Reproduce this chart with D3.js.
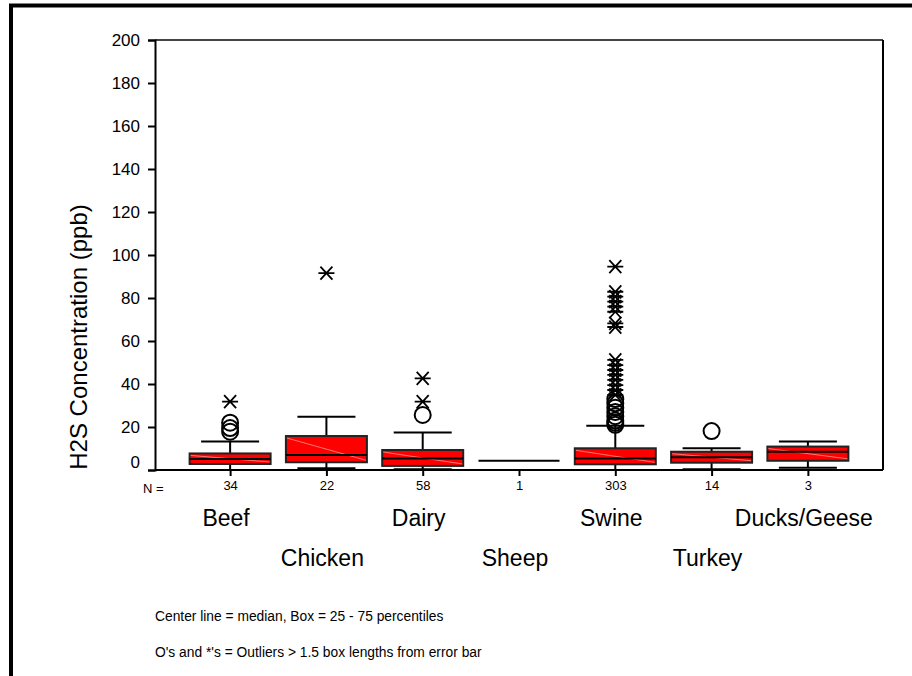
<!DOCTYPE html>
<html><head><meta charset="utf-8">
<script src="https://cdn.jsdelivr.net/npm/d3@7"></script>
<style>body{margin:0;background:#fff}svg{display:block;font-family:Arial,"Liberation Sans",sans-serif}</style>
</head><body>
<script>
const categories = ["Beef","Chicken","Dairy","Sheep","Swine","Turkey","Ducks/Geese"];
const nCounts = [34,22,58,1,303,14,3];
const labelRow = [0,1,0,1,0,1,0];
const q1 = [2.8, 3.6, 1.9, 4.3, 2.65, 3.4, 4.3];
const median = [5.1, 7.0, 5.4, 4.3, 5.4, 5.9, 8.5];
const q3 = [7.7, 15.8, 9.3, 4.3, 10.1, 8.5, 10.9];
const whiskerLow = [0, 0.8, 0.3, 4.3, 0, 0.3, 1.1];
const whiskerHigh = [13.3, 24.8, 17.5, 4.3, 20.6, 10.1, 13.2];
const circleOutliers = [[17.8,19.5,22],[],[25.6],[],[21,22,23,25,27,29,31,33],[18.1],[]];
const starOutliers = [[31.8],[91.6],[31.8,42.6],[],[34.9,37.2,39.5,41.9,44.2,46.5,48.8,51.2,66.5,68.2,73.6,76,78.3,80.6,82.9,94.6],[],[]];
const yTicks = [0,20,40,60,80,100,120,140,160,180,200];
const yTitle = "H2S Concentration (ppb)";
const notes = ["Center line = median, Box = 25 - 75 percentiles","O's and *'s = Outliers > 1.5 box lengths from error bar"];

const W=912,H=676;
const L=155,R=883,T=40,B=470;
const svg=d3.select("body").append("svg").attr("width",W).attr("height",H);

// outer frame
svg.append("rect").attr("x",11).attr("y",5.5).attr("width",1000).attr("height",1000)
  .attr("fill","none").attr("stroke","#000").attr("stroke-width",4);

const x=d3.scalePoint().domain(categories).range([L,R]).padding(0.78);
const y=d3.scaleLinear().domain([0,200]).range([B,T]);
const boxW=81, capW=58;

// plot frame top/right
svg.append("line").attr("x1",L).attr("x2",R).attr("y1",T).attr("y2",T).attr("stroke","#444").attr("stroke-width",2);
svg.append("line").attr("x1",R).attr("x2",R).attr("y1",T).attr("y2",B).attr("stroke","#000").attr("stroke-width",2);

// y axis
const yAxis=d3.axisLeft(y).tickValues(yTicks).tickSize(7).tickPadding(8);
const gy=svg.append("g").attr("transform",`translate(${L},0)`).call(yAxis);
gy.select(".domain").attr("stroke","#000").attr("stroke-width",2);
gy.selectAll(".tick line").attr("stroke","#000").attr("stroke-width",2);
gy.selectAll(".tick text").attr("font-size",17).attr("fill","#000").attr("font-family","Arial, 'Liberation Sans', sans-serif")
  .attr("dy",d=>d===0?"-0.15em":"0.32em");

// x axis
const xAxis=d3.axisBottom(x).tickSize(6).tickFormat((d,i)=>nCounts[i]).tickPadding(5);
const gx=svg.append("g").attr("transform",`translate(0,${B})`).call(xAxis);
gx.select(".domain").attr("d",`M${L},0H${R}`).attr("stroke","#000").attr("stroke-width",2);
gx.selectAll(".tick line").attr("stroke","#000").attr("stroke-width",2);
gx.selectAll(".tick text").attr("font-size",13).attr("fill","#000").attr("font-family","Arial, 'Liberation Sans', sans-serif");
svg.append("text").attr("x",143).attr("y",493).attr("font-size",13).text("N =");

// boxes
const g=svg.append("g");
categories.forEach((c,i)=>{
  const cx=x(c);
  const gg=g.append("g");
  if(nCounts[i]>1){
    gg.append("line").attr("x1",cx).attr("x2",cx).attr("y1",y(q3[i])).attr("y2",y(whiskerHigh[i])).attr("stroke","#000").attr("stroke-width",2);
    gg.append("line").attr("x1",cx).attr("x2",cx).attr("y1",y(q1[i])).attr("y2",y(whiskerLow[i])).attr("stroke","#000").attr("stroke-width",2);
    gg.append("line").attr("x1",cx-capW/2).attr("x2",cx+capW/2).attr("y1",y(whiskerHigh[i])).attr("y2",y(whiskerHigh[i])).attr("stroke","#000").attr("stroke-width",2);
    gg.append("line").attr("x1",cx-capW/2).attr("x2",cx+capW/2).attr("y1",y(whiskerLow[i])).attr("y2",y(whiskerLow[i])).attr("stroke","#000").attr("stroke-width",2);
    gg.append("rect").attr("x",cx-boxW/2).attr("y",y(q3[i])).attr("width",boxW).attr("height",y(q1[i])-y(q3[i]))
      .attr("fill","#ff0000").attr("stroke","#222").attr("stroke-width",2);
    gg.append("line").attr("x1",cx-boxW/2+1).attr("y1",y(q3[i])+2).attr("x2",cx+boxW/2-1).attr("y2",y(q1[i])-2)
      .attr("stroke","#ff9090").attr("stroke-width",0.8);
  }
  gg.append("line").attr("x1",cx-boxW/2).attr("x2",cx+boxW/2).attr("y1",y(median[i])).attr("y2",y(median[i])).attr("stroke","#000").attr("stroke-width",2);
  circleOutliers[i].forEach(v=>{
    gg.append("circle").attr("cx",cx).attr("cy",y(v)).attr("r",8).attr("fill","none").attr("stroke","#000").attr("stroke-width",2);
  });
  starOutliers[i].forEach(v=>{
    gg.append("path").attr("transform",`translate(${cx},${y(v)})`)
      .attr("d","M-8,0H8M-6,-6.5L6,6.5M-6,6.5L6,-6.5").attr("stroke","#000").attr("stroke-width",1.8).attr("fill","none");
  });
  svg.append("text").attr("x",cx-4).attr("y",labelRow[i]===0?526:566).attr("text-anchor","middle")
    .attr("font-size",23).attr("fill","#000").text(c);
});

// y title
svg.append("text").attr("transform","translate(87,337) rotate(-90)").attr("text-anchor","middle")
  .attr("font-size",24).attr("fill","#000").text(yTitle);

// notes
svg.selectAll(".note").data(notes).enter().append("text").attr("x",155).attr("y",(d,i)=>621+i*36)
  .attr("font-size",13.8).attr("fill","#000").text(d=>d);
</script>
</body></html>
